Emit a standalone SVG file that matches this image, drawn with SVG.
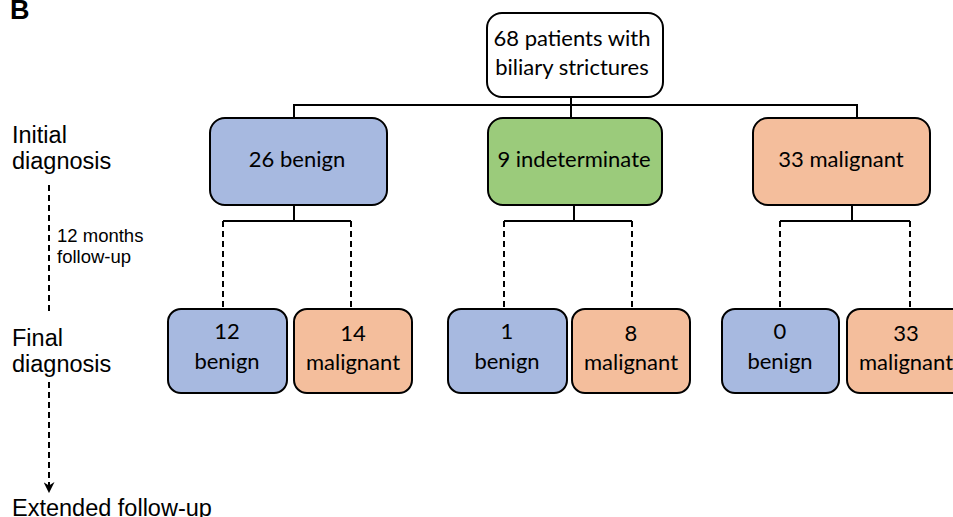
<svg xmlns="http://www.w3.org/2000/svg" width="953" height="517" viewBox="0 0 953 517">
<style>
.box{stroke:#000;stroke-width:2}
.w{fill:#fff}.b{fill:#a7b9e0}.g{fill:#9bcb7b}.o{fill:#f4be9c}
.t{font-family:Lato,"Open Sans",sans-serif;font-size:22px;fill:#000;text-anchor:middle}
.l{font-family:"Liberation Sans",Arial,sans-serif;font-size:23.5px;fill:#000}
.s{font-family:"Liberation Sans",Arial,sans-serif;font-size:18.5px;fill:#000}
.c{fill:none;stroke:#000;stroke-width:2}
.d{fill:none;stroke:#000;stroke-width:2;stroke-dasharray:6,4}
</style>
<defs>
<marker id="ah" viewBox="0 0 10 10" refX="9" refY="5" markerWidth="5.5" markerHeight="5.5" orient="auto"><path d="M0,0 L10,5 L0,10 L3,5 z" fill="#000"/></marker>
</defs>
<rect width="953" height="517" fill="#fff"/>
<text x="10" y="19" font-family="Liberation Sans,Arial,sans-serif" font-weight="bold" font-size="27" fill="#000">B</text>
<g id="labels">
<text class="l" x="12" y="143">Initial</text>
<text class="l" x="12" y="169">diagnosis</text>
<text class="s" x="57" y="242">12 months</text>
<text class="s" x="57" y="263">follow-up</text>
<text class="l" x="12" y="346">Final</text>
<text class="l" x="12" y="372">diagnosis</text>
<text class="l" x="12" y="516">Extended follow-up</text>
</g>
<g id="connectors">
<path class="d" d="M49,185 V315"/>
<path class="d" d="M49,382 V492" marker-end="url(#ah)"/>
<path class="c" d="M571,97 V105 M294,118 V105 H857 V118 M571,105 V118"/>
<path class="c" d="M294,205 V221 M223,221 H351"/>
<path class="d" d="M223,221 V308 M351,221 V308"/>
<path class="c" d="M574,205 V221 M504,221 H632"/>
<path class="d" d="M504,221 V308 M632,221 V308"/>
<path class="c" d="M852,205 V221 M780,221 H910"/>
<path class="d" d="M780,221 V308 M910,221 V308"/>
</g>
<g id="root"><rect class="box w" x="487" y="13" width="176" height="84" rx="15"/>
<text class="t" x="572" y="46">68 patients with</text><text class="t" x="572" y="75">biliary strictures</text></g>
<g id="init-benign"><rect class="box b" x="210" y="118" width="177" height="87" rx="15"/><text class="t" x="297" y="167">26 benign</text></g>
<g id="init-indeterminate"><rect class="box g" x="488" y="118" width="174" height="87" rx="15"/><text class="t" x="574" y="167">9 indeterminate</text></g>
<g id="init-malignant"><rect class="box o" x="753" y="118" width="177" height="87" rx="15"/><text class="t" x="841" y="167">33 malignant</text></g>
<g id="f1"><rect class="box b" x="168" y="309" width="119" height="84" rx="13"/><text class="t" x="227" y="339">12</text><text class="t" x="227" y="369">benign</text></g>
<g id="f2"><rect class="box o" x="294" y="309" width="118" height="84" rx="13"/><text class="t" x="353" y="341">14</text><text class="t" x="353" y="370">malignant</text></g>
<g id="f3"><rect class="box b" x="448" y="309" width="119" height="84" rx="13"/><text class="t" x="507" y="339">1</text><text class="t" x="507" y="369">benign</text></g>
<g id="f4"><rect class="box o" x="572" y="309" width="118" height="84" rx="13"/><text class="t" x="631" y="341">8</text><text class="t" x="631" y="370">malignant</text></g>
<g id="f5"><rect class="box b" x="722" y="309" width="117" height="84" rx="13"/><text class="t" x="780" y="339">0</text><text class="t" x="780" y="369">benign</text></g>
<g id="f6"><rect class="box o" x="847" y="309" width="118" height="84" rx="13"/><text class="t" x="906" y="341">33</text><text class="t" x="906" y="370">malignant</text></g>
</svg>
